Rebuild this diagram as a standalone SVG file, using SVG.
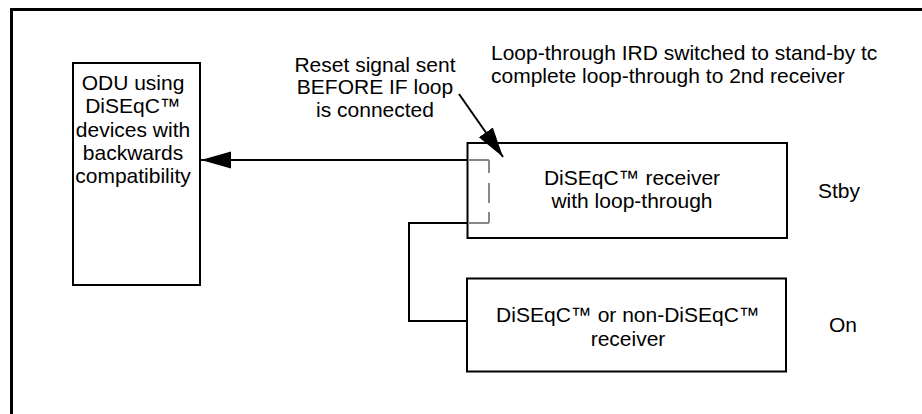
<svg xmlns="http://www.w3.org/2000/svg" width="922" height="414" viewBox="0 0 922 414">
<style>
.box{fill:#fff;stroke:#000;stroke-width:2}
.t{font-family:"Liberation Sans",Arial,sans-serif;font-size:21px;fill:#000}
.c{text-anchor:middle}
.ln{fill:none;stroke:#000;stroke-width:2}
</style>
<defs>
<marker id="ah" markerUnits="userSpaceOnUse" markerWidth="34" markerHeight="22" refX="30" refY="10" orient="auto">
<path d="M0,1.5 L30,10 L0,18.5 z" fill="#000"/>
</marker>
</defs>
<rect width="922" height="414" fill="#fff"/>
<path d="M11.5,414 V9.5 H922" fill="none" stroke="#000" stroke-width="3"/>
<g id="odu">
<rect class="box" x="73" y="63" width="127" height="222"/>
<text class="t c" x="133" y="89.5">ODU using</text>
<text class="t c" x="133" y="113">DiSEqC™</text>
<text class="t c" x="133" y="136.5">devices with</text>
<text class="t c" x="133" y="159.5">backwards</text>
<text class="t c" x="133" y="183">compatibility</text>
</g>
<g id="rx1">
<rect class="box" x="467.5" y="143" width="319.5" height="95"/>
<text class="t c" x="632" y="185">DiSEqC™ receiver</text>
<text class="t c" x="632" y="208">with loop-through</text>
</g>
<g id="rx2">
<rect class="box" x="467" y="278.5" width="319" height="93"/>
<text class="t c" x="628" y="322">DiSEqC™ or non-DiSEqC™</text>
<text class="t c" x="628" y="346">receiver</text>
</g>
<g id="labels">
<text class="t c" x="375" y="71.5">Reset signal sent</text>
<text class="t c" x="375" y="94">BEFORE IF loop</text>
<text class="t c" x="375" y="117">is connected</text>
<text class="t" x="491" y="59.5">Loop-through IRD switched to stand-by tc</text>
<text class="t" x="491" y="82.5">complete loop-through to 2nd receiver</text>
<text class="t c" x="839" y="198">Stby</text>
<text class="t c" x="843" y="332">On</text>
</g>
<g id="connectors">
<line class="ln" x1="467" y1="160" x2="201" y2="160" marker-end="url(#ah)"/>
<line class="ln" x1="459" y1="94" x2="503" y2="157" stroke-width="1.5" marker-end="url(#ah)"/>
<path class="ln" d="M467,223 H409 V321 H467"/>
<path d="M468,160 H489" fill="none" stroke="#888" stroke-width="2"/>
<path d="M468,223 H489" fill="none" stroke="#888" stroke-width="2"/>
<path d="M489,160 V223" fill="none" stroke="#888" stroke-width="2" stroke-dasharray="13 10 20 9 12"/>
</g>
</svg>
